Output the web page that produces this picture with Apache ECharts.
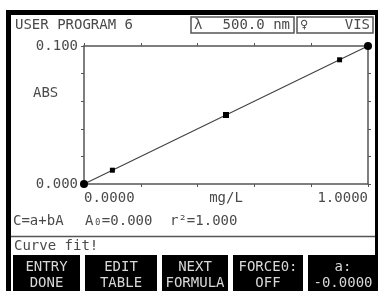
<!DOCTYPE html>
<html>
<head>
<meta charset="utf-8"/>
<title>User Program 6</title>
<script src="https://cdn.jsdelivr.net/npm/echarts@6/dist/echarts.min.js"></script>
<style>
html,body{margin:0;padding:0;background:#fff;}
#tu{width:378px;height:291px;}
</style>
</head>
<body>
<div id="tu"></div>
<script type="text/javascript">
// standard concentrations (mg/L) and absorbances
var conc = [0, 0.1, 0.5, 0.9, 1.0];
var abs = [0, 0.01, 0.05, 0.09, 0.1];
var markSize = [8, 5, 6, 5, 8];
var buttons = [['ENTRY', 'DONE'], ['EDIT', 'TABLE'], ['NEXT', 'FORMULA'], ['FORCE0:', 'OFF'], ['a:', '-0.0000']];
var btnX = [13, 85, 162, 233, 308];
var btnW = [67, 72, 66, 70, 70];

var ft = '"DejaVu Sans Mono", monospace';
var grey = '#4a4a4a';

function txt(x, y, s, align, col, size) {
	return {type: 'text', x: x, y: y, silent: true, style: {text: s, fill: col || grey, font: (size || 14) + 'px ' + ft, textAlign: align || 'left', textVerticalAlign: 'middle'}};
}

var g = [];
// frame
g.push({type: 'rect', shape: {x: 6, y: 10, width: 372, height: 5}, style: {fill: '#000'}});
g.push({type: 'rect', shape: {x: 6, y: 10, width: 5, height: 281}, style: {fill: '#000'}});
g.push({type: 'rect', shape: {x: 375, y: 10, width: 3, height: 281}, style: {fill: '#000'}});
// header
g.push(txt(15, 25, 'USER PROGRAM 6'));
g.push({type: 'rect', shape: {x: 191, y: 17, width: 103, height: 16}, style: {fill: 'none', stroke: '#555', lineWidth: 1.5}});
g.push({type: 'rect', shape: {x: 297, y: 17, width: 76, height: 16}, style: {fill: 'none', stroke: '#555', lineWidth: 1.5}});
g.push(txt(194, 25, 'λ'));
g.push(txt(290, 25, '500.0 nm', 'right'));
g.push(txt(300, 25, '♀'));
g.push(txt(370, 25, 'VIS', 'right'));
g.push(txt(33, 93, 'ABS'));
// fit info
g.push(txt(13, 221, 'C=a+bA'));
g.push(txt(85, 221, 'A₀=0.000'));
g.push(txt(170, 221, 'r²=1.000'));
g.push({type: 'line', shape: {x1: 11, y1: 236.5, x2: 375, y2: 236.5}, style: {stroke: '#555', lineWidth: 1.5}});
g.push(txt(14, 246, 'Curve fit!'));
// soft keys
for (var i = 0; i < buttons.length; i++) {
	g.push({type: 'rect', shape: {x: btnX[i], y: 255, width: btnW[i], height: 36}, style: {fill: '#000'}});
	g.push(txt(btnX[i] + btnW[i] / 2, 267, buttons[i][0], 'center', '#d8d8d8'));
	g.push(txt(btnX[i] + btnW[i] / 2, 283, buttons[i][1], 'center', '#d8d8d8'));
}

var pts = [];
for (var k = 0; k < conc.length; k++) {
	pts.push({value: [conc[k], abs[k]], symbol: (k == 0 || k == conc.length - 1) ? 'circle' : 'rect', symbolSize: markSize[k]});
}

var axLine = {show: true, onZero: false, lineStyle: {color: '#555', width: 1.5}};
var tick = {show: true, inside: false, length: 3, lineStyle: {color: '#555'}};

var myChart = echarts.init(document.getElementById('tu'));
var option = {
	animation: false,
	backgroundColor: '#fff',
	grid: {left: 84, top: 46, width: 284, height: 138},
	xAxis: [
		{type: 'value', min: 0, max: 1, interval: 0.2, position: 'bottom',
			axisLine: axLine, axisTick: tick, splitLine: {show: false},
			name: 'mg/L', nameLocation: 'middle', nameGap: 7, nameMoveOverlap: false,
			nameTextStyle: {color: grey, fontFamily: ft, fontSize: 14},
			axisLabel: {color: grey, fontFamily: ft, fontSize: 14, margin: 7, alignMinLabel: 'left', alignMaxLabel: 'right',
				formatter: function (v) { return (v === 0 || v === 1) ? v.toFixed(4) : ''; }}},
		{type: 'value', min: 0, max: 1, interval: 0.2, position: 'top',
			axisLine: axLine, axisTick: tick, splitLine: {show: false}, axisLabel: {show: false}}
	],
	yAxis: [
		{type: 'value', min: 0, max: 0.1, interval: 0.02, position: 'left',
			axisLine: axLine, axisTick: tick, splitLine: {show: false},
			axisLabel: {color: grey, fontFamily: ft, fontSize: 14, margin: 6,
				formatter: function (v) { return (Math.abs(v) < 1e-9 || Math.abs(v - 0.1) < 1e-9) ? v.toFixed(3) : ''; }}},
		{type: 'value', min: 0, max: 0.1, interval: 0.02, position: 'right',
			axisLine: axLine, axisTick: tick, splitLine: {show: false}, axisLabel: {show: false}}
	],
	series: [
		{name: 'Curve', type: 'line', data: pts,
			lineStyle: {color: '#444', width: 1.2},
			itemStyle: {color: '#000'}}
	],
	graphic: g
};
myChart.setOption(option);
</script>
</body>
</html>
